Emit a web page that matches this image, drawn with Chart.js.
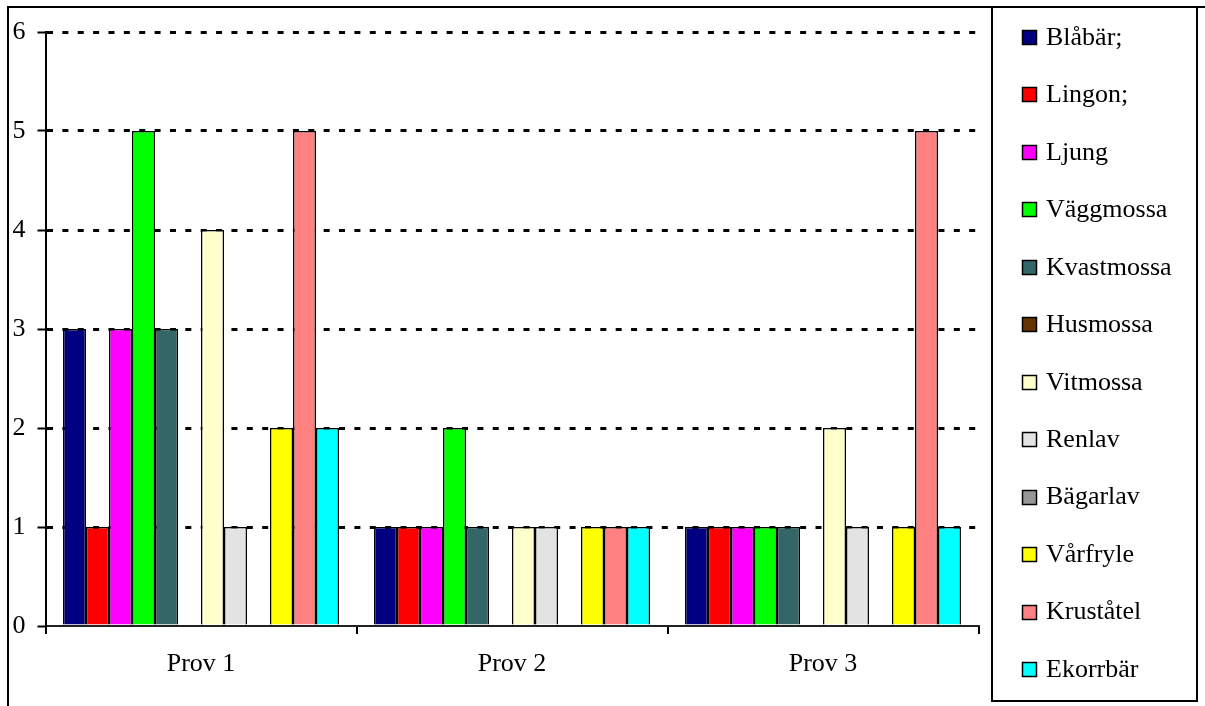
<!DOCTYPE html>
<html>
<head>
<meta charset="utf-8">
<title>Prov 1–3</title>
<script src="https://cdn.jsdelivr.net/npm/chart.js@4/dist/chart.umd.min.js"></script>
<style>
  html, body { margin: 0; padding: 0; background: #fff; }
  canvas { display: block; }
</style>
</head>
<body>
<canvas id="c" width="1205" height="706"></canvas>
<script>
// Categories and per-species counts
const categories = ['Prov 1', 'Prov 2', 'Prov 3'];
const yTicks = [0, 1, 2, 3, 4, 5, 6];

const blabar     = [3, 1, 1];
const lingon     = [1, 1, 1];
const ljung      = [3, 1, 1];
const vaggmossa  = [5, 2, 1];
const kvastmossa = [3, 1, 1];
const husmossa   = [0, 0, 0];
const vitmossa   = [4, 1, 2];
const renlav     = [1, 1, 1];
const bagarlav   = [0, 0, 0];
const varfryle   = [2, 1, 1];
const krustatel  = [5, 1, 5];
const ekorrbar   = [2, 1, 1];

const seriesNames = ['Blåbär;', 'Lingon;', 'Ljung', 'Väggmossa', 'Kvastmossa', 'Husmossa',
                     'Vitmossa', 'Renlav', 'Bägarlav', 'Vårfryle', 'Kruståtel', 'Ekorrbär'];
const seriesValues = [blabar, lingon, ljung, vaggmossa, kvastmossa, husmossa,
                      vitmossa, renlav, bagarlav, varfryle, krustatel, ekorrbar];
const seriesColors = ['#000080', '#FF0000', '#FF00FF', '#00FF00', '#336666', '#663300',
                      '#FFFFCC', '#E3E3E3', '#969696', '#FFFF00', '#FF8080', '#00FFFF'];

const FONT = "'Liberation Serif', 'Times New Roman', serif";

// Outer frame plus the boxed legend on the right
const frameAndLegend = {
  id: 'frameAndLegend',
  afterDraw(chart) {
    const ctx = chart.ctx;
    ctx.save();
    ctx.strokeStyle = '#000';
    ctx.lineWidth = 2;
    ctx.beginPath();
    ctx.moveTo(7, 7); ctx.lineTo(1205, 7);
    ctx.moveTo(8, 6); ctx.lineTo(8, 706);
    ctx.stroke();
    ctx.strokeRect(992, 7, 205, 694);

    ctx.font = '26px ' + FONT;
    ctx.textBaseline = 'middle';
    ctx.textAlign = 'left';
    chart.data.datasets.forEach((ds, i) => {
      const yc = 37 + i * 57.45;
      const top = Math.round(yc - 7) + 0.5;
      ctx.fillStyle = ds.backgroundColor;
      ctx.fillRect(1022.5, top, 14, 14);
      ctx.lineWidth = 1.5;
      ctx.strokeStyle = '#000';
      ctx.strokeRect(1022.5, top, 14, 14);
      ctx.fillStyle = '#000';
      ctx.fillText(ds.label, 1046, yc + 1);
    });
    ctx.restore();
  }
};

new Chart(document.getElementById('c'), {
  type: 'bar',
  data: {
    labels: categories,
    datasets: seriesNames.map((name, i) => ({
      label: name,
      data: seriesValues[i],
      backgroundColor: seriesColors[i],
      borderColor: '#000',
      borderWidth: 1.5,
      categoryPercentage: 0.8875,
      barPercentage: 1
    }))
  },
  options: {
    responsive: false,
    animation: false,
    devicePixelRatio: 1,
    layout: { padding: { left: 0.5, top: 32, right: 226.5, bottom: 0 } },
    plugins: {
      legend: { display: false },
      tooltip: { enabled: false }
    },
    scales: {
      x: {
        offset: true,
        grid: {
          offset: true,
          drawOnChartArea: false,
          drawTicks: true,
          tickLength: 8,
          color: '#000',
          lineWidth: 2
        },
        border: { color: '#222', width: 2 },
        ticks: {
          color: '#000',
          font: { family: FONT, size: 26 },
          padding: 15,
          maxRotation: 0
        },
        afterFit(scale) { scale.height = 80; }
      },
      y: {
        min: 0,
        max: 6,
        afterBuildTicks(scale) { scale.ticks = yTicks.map(v => ({ value: v })); },
        grid: {
          color: ctx => (ctx.tick && ctx.tick.value === 0) ? 'rgba(0,0,0,0)' : '#000',
          lineWidth: 3,
          tickColor: '#000',
          tickWidth: 2,
          tickLength: 8,
          tickBorderDash: []
        },
        border: { color: '#000', width: 2, dash: [6, 9.37] },
        ticks: {
          color: '#000',
          font: { family: FONT, size: 26 },
          padding: 12
        },
        afterFit(scale) { scale.width = 45; }
      }
    }
  },
  plugins: [frameAndLegend]
});
</script>
</body>
</html>
